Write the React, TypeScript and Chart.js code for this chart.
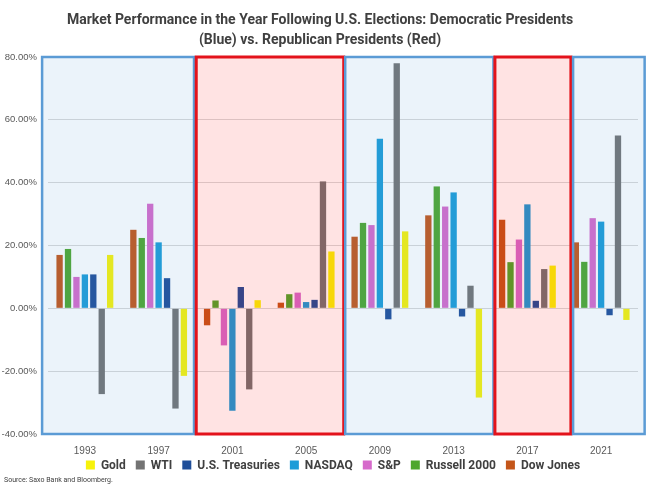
import React, { useEffect, useRef } from "react";
import { Chart, registerables } from "chart.js";

Chart.register(...registerables);

const years = ["1993", "1997", "2001", "2005", "2009", "2013", "2017", "2021"];
const dowJones = [17.0, 25.0, -5.4, 1.8, 22.8, 29.6, 28.2, 21.0];
const russell2000 = [18.9, 22.4, 2.5, 4.5, 27.2, 38.8, 14.7, 14.8];
const sp = [10.0, 33.3, -11.8, 5.0, 26.5, 32.4, 21.9, 28.7];
const nasdaq = [10.8, 21.0, -32.6, 2.0, 54.0, 36.9, 33.1, 27.6];
const treasuries = [10.8, 9.6, 6.8, 2.7, -3.5, -2.6, 2.4, -2.2];
const wti = [-27.3, -31.9, -25.8, 40.4, 78.0, 7.2, 12.5, 55.0];
const gold = [17.0, -21.5, 2.6, 18.1, 24.5, -28.4, 13.6, -3.7];

// party boxes: [startIndex, endIndex (category units), party]
const spans: [number, number, string][] = [
  [-0.58, 1.48, "D"],
  [1.51, 3.51, "R"],
  [3.53, 5.54, "D"],
  [5.56, 6.59, "R"],
  [6.62, 7.59, "D"],
];

const titleLines = [
  "Market Performance in the Year Following U.S. Elections: Democratic Presidents",
  "(Blue) vs. Republican Presidents (Red)",
];
const sourceText = "Source: Saxo Bank and Bloomberg.";

const boxPlugin = {
  id: "partyBoxes",
  afterDatasetsDraw(chart: any) {
    const { ctx, scales } = chart;
    const x = scales.x;
    const y = scales.y;
    const top = y.getPixelForValue(80);
    const bottom = y.getPixelForValue(-40);
    ctx.save();
    spans.forEach(([a, b, p]) => {
      const l = x.getPixelForValue(a);
      const r = x.getPixelForValue(b);
      const isR = p === "R";
      ctx.fillStyle = isR ? "rgba(255,0,0,0.11)" : "rgba(91,155,213,0.12)";
      ctx.fillRect(l, top, r - l, bottom - top);
      ctx.strokeStyle = isR ? "#E3121B" : "#5B9BD5";
      ctx.lineWidth = isR ? 3 : 2.5;
      ctx.strokeRect(l, top, r - l, bottom - top);
    });
    ctx.restore();
  },
};

const legendPlugin = {
  id: "customLegend",
  afterDraw(chart: any) {
    const { ctx, chartArea } = chart;
    const items = chart.data.datasets
      .map((d: any) => ({ text: d.label, color: d.backgroundColor }))
      .reverse();
    ctx.save();
    ctx.font = "bold 12px Roboto, sans-serif";
    ctx.textBaseline = "middle";
    ctx.textAlign = "left";
    const box = 9;
    const gap = 6;
    const spacing = 10;
    const widths = items.map((it: any) => box + gap + ctx.measureText(it.text).width);
    const total = widths.reduce((s: number, w: number) => s + w, 0) + spacing * (items.length - 1);
    const cx = (chartArea.left + chartArea.right) / 2 - 10;
    let x = cx - total / 2;
    const y = chartArea.bottom + 31;
    items.forEach((it: any, i: number) => {
      ctx.fillStyle = it.color;
      ctx.fillRect(x, y - box / 2, box, box);
      ctx.fillStyle = "#404040";
      ctx.fillText(it.text, x + box + gap, y + 0.5);
      x += widths[i] + spacing;
    });
    ctx.font = "7px Roboto, sans-serif";
    ctx.fillStyle = "#404040";
    ctx.fillText(sourceText, 4, chart.height - 8);
    ctx.restore();
  },
};

export default function App() {
  const ref = useRef<HTMLCanvasElement | null>(null);
  useEffect(() => {
    if (!ref.current) return;
    const mk = (label: string, data: number[], color: string) => ({
      label,
      data,
      backgroundColor: color,
      borderWidth: 0,
      categoryPercentage: 0.8,
      barPercentage: 0.75,
    });
    const chart = new Chart(ref.current, {
      type: "bar",
      data: {
        labels: years,
        datasets: [
          mk("Dow Jones", dowJones, "#C4561A"),
          mk("Russell 2000", russell2000, "#4EA72E"),
          mk("S&P", sp, "#D66ACB"),
          mk("NASDAQ", nasdaq, "#1C9CD8"),
          mk("U.S. Treasuries", treasuries, "#1F4E99"),
          mk("WTI", wti, "#737373"),
          mk("Gold", gold, "#F7F20A"),
        ],
      },
      options: {
        animation: false,
        responsive: true,
        maintainAspectRatio: false,
        layout: { padding: { left: 2, right: 12, top: 0, bottom: 20 } },
        scales: {
          x: {
            grid: { display: false, drawTicks: false },
            border: { display: false },
            ticks: {
              color: "#595959",
              font: { family: "'Liberation Sans', Arial, sans-serif", size: 10 },
              padding: 11,
            },
          },
          y: {
            min: -40,
            max: 80,
            grid: { color: "#D9D9D9", drawTicks: false },
            border: { display: false },
            afterFit: (scale: any) => {
              scale.width = 46;
            },
            ticks: {
              stepSize: 20,
              color: "#595959",
              font: { family: "'Liberation Sans', Arial, sans-serif", size: 9.5 },
              padding: 11,
              callback: (v: any) => Number(v).toFixed(2) + "%",
            },
          },
        },
        plugins: {
          title: {
            display: true,
            text: titleLines,
            color: "#404040",
            font: { family: "Roboto, sans-serif", size: 14, weight: "bold", lineHeight: 1.45 },
            padding: { top: 10, bottom: 6.4 },
          },
          legend: { display: false },
          tooltip: { enabled: false },
        },
      },
      plugins: [boxPlugin, legendPlugin],
    } as any);
    return () => chart.destroy();
  }, []);
  return (
    <div style={{ position: "fixed", left: 0, top: 0, width: 650, height: 488, background: "#fff" }}>
      <canvas ref={ref} />
    </div>
  );
}
